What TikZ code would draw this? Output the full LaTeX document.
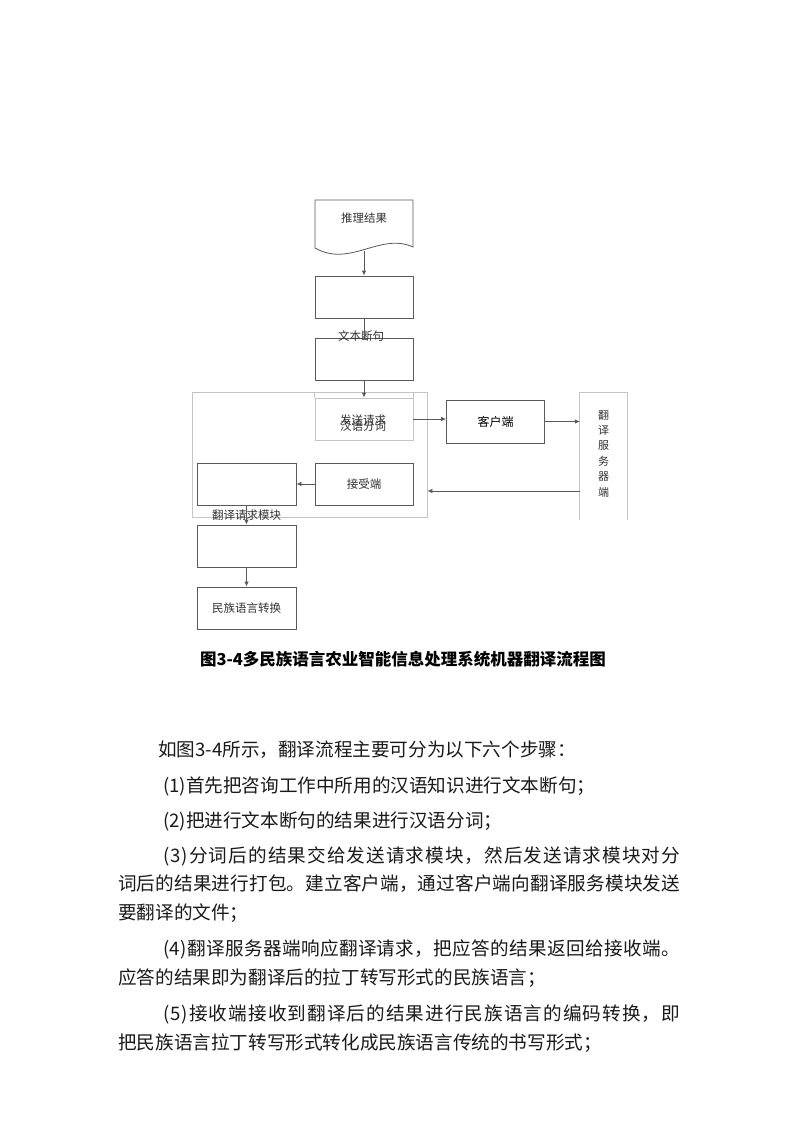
\documentclass[tikz,border=0pt]{standalone}
\usepackage{fontspec}
\newfontfamily\cjk{Noto Sans CJK SC}
\usetikzlibrary{arrows.meta,calc}
\definecolor{linegray}{HTML}{5A5A5A}
\definecolor{lightline}{HTML}{C4C4C4}
\definecolor{textgray}{HTML}{333333}
\definecolor{bodycol}{HTML}{1A1A1A}
\def\jline#1#2{\hbox to #1{\jfirst#2\relax}}
\def\jfirst#1{#1\jrest}
\def\jrest#1{\ifx\relax#1\else\hfil#1\expandafter\jrest\fi}
\begin{document}
\begin{tikzpicture}[x=1pt,y=-1pt,
  line/.style={draw=linegray, line width=0.8pt},
  box/.style={line, minimum width=98pt, minimum height=42pt, inner sep=0pt,
    font=\cjk\fontsize{11.5}{12}\selectfont, text=textgray},
  lbl/.style={font=\cjk\fontsize{11.5}{12}\selectfont, text=textgray, inner sep=0pt},
  arr/.style={draw=linegray, line width=0.8pt, -{Latex[length=5pt,width=4.5pt]}},
  body/.style={font=\cjk\fontsize{18.6}{20}\selectfont, text=bodycol, inner sep=0pt, anchor=base west}]
\useasboundingbox (0,0) rectangle (795,1123);
\fill[white] (0,0) rectangle (795,1123);

% document shape
\draw[line] (315,200) -- (413,200) -- (413,247)
  .. controls (380,232) and (350,268) .. (315,248) -- cycle;
\node[lbl] (doc) at (364,218) {推理结果};
\coordinate (docb) at (364,251);

\node[box] (b2) at (364,297) {};
\node[box] (b3) at (364,359) {};
\node[lbl] (t3) at (361,336) {文本断句};

% outer light box
\node[draw=lightline, line width=0.8pt, minimum width=235pt, minimum height=125pt, inner sep=0pt] (outer) at (309.5,454.5) {};

% send / segment box
\node[box, draw=lightline] (send) at (364,419) {};
\draw[draw=lightline, line width=0.8pt] (send.north west) -- ++(0,-6) (send.north east) -- ++(0,-6);
\node[lbl] (ts1) at (363,420) {发送请求};
\node[lbl] (ts2) at (363,426) {汉语分词};

\node[box, minimum height=43pt, font=\cjk\fontsize{12}{12}\selectfont, text=black] (client) at (495.5,421.5) {客户端};

% server
\node[minimum width=47pt, minimum height=127pt, inner sep=0pt] (server) at (603.5,456.5) {};
\draw[draw=lightline, line width=0.8pt] (server.south west) -- (server.north west) -- (server.north east) -- (server.south east);
\node[lbl, align=center, font=\cjk\fontsize{11}{15.4}\selectfont] (svt) at (603.5,453.5) {翻\\译\\服\\务\\器\\端};

\node[box] (recv) at (364,484) {接受端};
\node[box, minimum width=99pt] (lb) at (246.5,484) {};
\node[lbl] (tl) at (246.5,515) {翻译请求模块};
\node[box, minimum width=99pt] (b5) at (246.5,546) {};
\node[box, minimum width=99pt] (b6) at (246.5,608) {民族语言转换};

\coordinate (sv) at (0,491);

% connectors
\draw[arr] (docb) -- (b2.north);
\draw[line] (b2.south) -- (b3.north);
\draw[arr] (b3.south) -- (send.north);
\draw[arr] (send.east) -- (client.west |- send.east);
\draw[arr] (client.east) -- (server.west |- client.east);
\draw[arr] (server.west |- sv) -- (outer.east |- sv);
\draw[arr] (recv.west) -- (lb.east);
\draw[arr] (lb.south) -- (b5.north);
\draw[arr] (b5.south) -- (b6.north);

% caption
\node[font=\cjk\bfseries\fontsize{16.5}{18}\selectfont, text=black, inner sep=0pt] (cap) at (403,659) {图3-4多民族语言农业智能信息处理系统机器翻译流程图};

% body text
\node[body] (p0) at (158,756) {如图3-4所示，翻译流程主要可分为以下六个步骤：};
\node[body] (p1) at (163,792) {(1)首先把咨询工作中所用的汉语知识进行文本断句；};
\node[body] (p2) at (163,827) {(2)把进行文本断句的结果进行汉语分词；};
\node[body] (p3) at (163,862) {\jline{517pt}{(3)分词后的结果交给发送请求模块，然后发送请求模块对分}};
\node[body] (p4) at (118,890) {\jline{562pt}{词后的结果进行打包。建立客户端，通过客户端向翻译服务模块发送}};
\node[body] (p5) at (118,919) {要翻译的文件；};
\node[body] (p6) at (163,955) {\jline{517pt}{(4)翻译服务器端响应翻译请求，把应答的结果返回给接收端。}};
\node[body] (p7) at (118,984) {应答的结果即为翻译后的拉丁转写形式的民族语言；};
\node[body] (p8) at (163,1020) {\jline{517pt}{(5)接收端接收到翻译后的结果进行民族语言的编码转换，即}};
\node[body] (p9) at (118,1049) {把民族语言拉丁转写形式转化成民族语言传统的书写形式；};
\end{tikzpicture}
\end{document}
